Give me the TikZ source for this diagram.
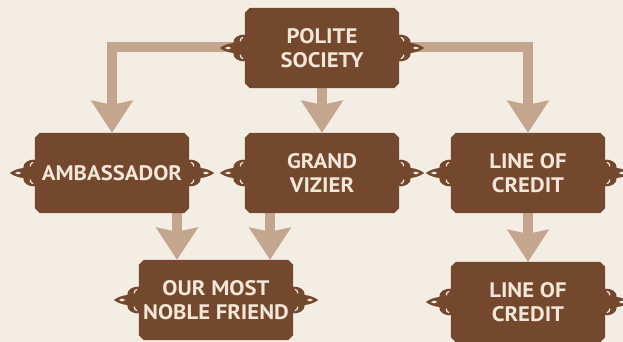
\documentclass[tikz,border=0pt]{standalone}
\usepackage{fontspec}
\setmainfont{PT Sans}[FakeStretch=1.08]
\usetikzlibrary{arrows.meta}
\definecolor{bgcol}{HTML}{F4EDE4}
\definecolor{boxcol}{HTML}{74482D}
\definecolor{arrcol}{HTML}{C4A68E}
\definecolor{txtcol}{HTML}{F1E6D8}
\pgfdeclarelayer{back}
\pgfdeclarelayer{arr}
\pgfdeclarelayer{deco}
\pgfsetlayers{back,arr,deco,main}
\tikzset{
  boxnode/.style={minimum width=154pt, minimum height=80pt, inner sep=0pt,
    text=txtcol, align=center, font=\fontsize{21}{24}\selectfont\bfseries},
  bar/.style={draw=arrcol, line width=10pt,
    -{Stealth[inset=4pt, width=41pt, length=32pt]}},
  orn/.pic={
    \fill[boxcol] (-1,-13) .. controls (6,-14.5) and (12,-10) .. (11.5,-5)
      .. controls (17,-4.5) and (21.5,-2.5) .. (25,0)
      .. controls (21.5,2.5) and (17,4.5) .. (11.5,5)
      .. controls (12,10) and (6,14.5) .. (-1,13) -- cycle;
    \fill[bgcol] (13.5,0) .. controls (15.5,-2.2) and (17.5,-1.5) .. (20,0)
      .. controls (17.5,1.5) and (15.5,2.2) .. (13.5,0) -- cycle;
    \draw[bgcol, line width=1.2pt, line cap=round] (2,-10.5) .. controls (4,-9.5) .. (4.5,-7);
    \draw[bgcol, line width=1.2pt, line cap=round] (2,10.5) .. controls (4,9.5) .. (4.5,7);
  }
}
\newcommand\mkbox[3]{%
  \node[boxnode] (#1) at (#2) {#3};
  \begin{pgfonlayer}{deco}
    \fill[boxcol] ([xshift=5pt]#1.north west) -- ([xshift=-5pt]#1.north east)
      -- ([yshift=-5pt]#1.north east) -- ([yshift=5pt]#1.south east)
      -- ([xshift=-5pt]#1.south east) -- ([xshift=5pt]#1.south west)
      -- ([yshift=5pt]#1.south west) -- ([yshift=-5pt]#1.north west) -- cycle;
    \pic at (#1.east) {orn};
    \pic[xscale=-1] at (#1.west) {orn};
  \end{pgfonlayer}}
\begin{document}
\begin{tikzpicture}[x=1pt, y=-1pt]
\begin{pgfonlayer}{back}
  \fill[bgcol] (0,0) rectangle (623,342);
\end{pgfonlayer}
\useasboundingbox (0,0) rectangle (623,342);

\mkbox{ps}{322,48}{POLITE\\SOCIETY}
\mkbox{amb}{112,173}{AMBASSADOR}
\mkbox{gv}{322,173}{GRAND\\VIZIER}
\mkbox{loc}{528,173}{LINE OF\\CREDIT}
\mkbox{onf}{216,300}{OUR MOST\\NOBLE FRIEND}
\mkbox{locb}{528,302}{LINE OF\\CREDIT}

\begin{pgfonlayer}{arr}
  \draw[bar] ([yshift=1pt]ps.west) -| (amb.north);
  \draw[bar] ([yshift=1pt]ps.east) -| (loc.north);
  \draw[bar] (ps.south) -- (gv.north);
  \draw[bar] ([xshift=65pt]amb.south) coordinate (a1) -- (a1 |- onf.north);
  \draw[bar] ([xshift=-52pt]gv.south) coordinate (g1) -- (g1 |- onf.north);
  \draw[bar] (loc.south) -- (locb.north);
\end{pgfonlayer}
\end{tikzpicture}
\end{document}
